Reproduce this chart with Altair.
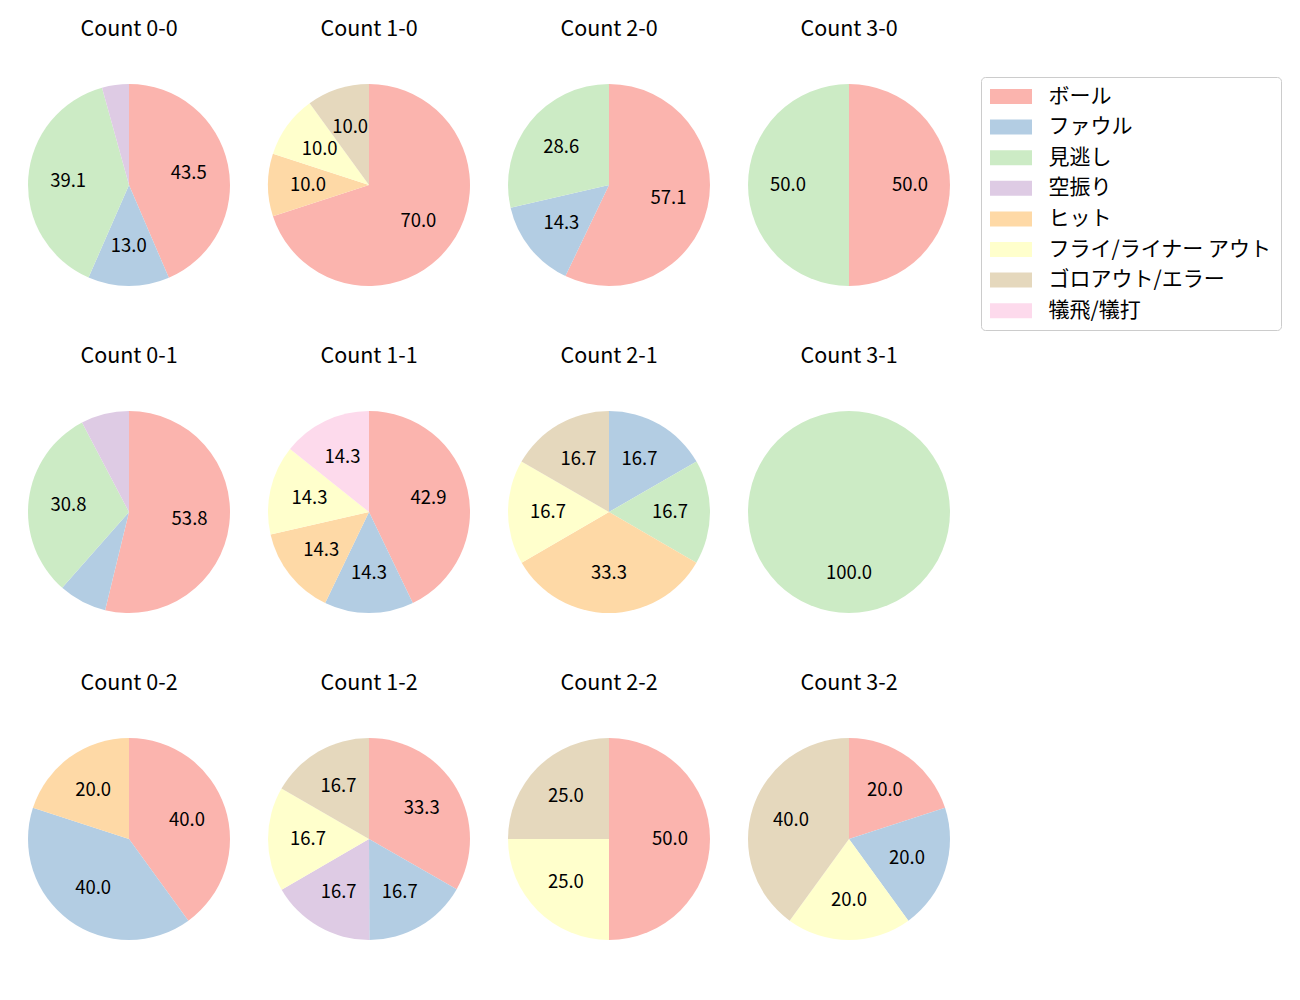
import altair as alt
import pandas as pd

FONT = "Noto Sans CJK JP"

categories = ["ボール", "ファウル", "見逃し", "空振り", "ヒット",
              "フライ/ライナー アウト", "ゴロアウト/エラー", "犠飛/犠打"]
colors = ["#fbb4ae", "#b3cde3", "#ccebc5", "#decbe4", "#fed9a6",
          "#ffffcc", "#e5d8bd", "#fddaec"]

counts = ["0-0", "1-0", "2-0", "3-0",
          "0-1", "1-1", "2-1", "3-1",
          "0-2", "1-2", "2-2", "3-2"]

# percentage of each category per count (legend order), 0 = absent
pct_0_0 = [43.5, 13.0, 39.1, 4.3, 0, 0, 0, 0]
pct_1_0 = [70.0, 0, 0, 0, 10.0, 10.0, 10.0, 0]
pct_2_0 = [57.1, 14.3, 28.6, 0, 0, 0, 0, 0]
pct_3_0 = [50.0, 0, 50.0, 0, 0, 0, 0, 0]
pct_0_1 = [53.8, 7.7, 30.8, 7.7, 0, 0, 0, 0]
pct_1_1 = [42.9, 14.3, 0, 0, 14.3, 14.3, 0, 14.3]
pct_2_1 = [0, 16.7, 16.7, 0, 33.3, 16.7, 16.7, 0]
pct_3_1 = [0, 0, 100.0, 0, 0, 0, 0, 0]
pct_0_2 = [40.0, 40.0, 0, 0, 20.0, 0, 0, 0]
pct_1_2 = [33.3, 16.7, 0, 16.7, 0, 16.7, 16.7, 0]
pct_2_2 = [50.0, 0, 0, 0, 0, 25.0, 25.0, 0]
pct_3_2 = [20.0, 20.0, 0, 0, 0, 20.0, 40.0, 0]

all_pcts = [pct_0_0, pct_1_0, pct_2_0, pct_3_0,
            pct_0_1, pct_1_1, pct_2_1, pct_3_1,
            pct_0_2, pct_1_2, pct_2_2, pct_3_2]

rows = []
for c, vals in zip(counts, all_pcts):
    for i, (cat, v) in enumerate(zip(categories, vals)):
        if v > 0:
            rows.append({"count": "Count " + c, "cat": cat, "idx": i, "pct": v})
df = pd.DataFrame(rows)

titles = ["Count " + c for c in counts]

base = alt.Chart(df).transform_calculate(
    label="datum.pct >= 9 ? format(datum.pct, '.1f') : ''"
).encode(
    theta=alt.Theta("pct:Q", stack=True),
    order=alt.Order("idx:Q", sort="ascending"),
)

arcs = base.mark_arc(outerRadius=101, strokeWidth=0).encode(
    color=alt.Color(
        "cat:N",
        scale=alt.Scale(domain=categories, range=colors),
        sort=categories,
        legend=alt.Legend(
            title=None,
            orient="none",
            legendX=968,
            legendY=27,
            symbolType="M-2,-0.714H2V0.714H-2Z",
            symbolSize=441,
            symbolStrokeWidth=0,
            symbolOpacity=1,
            symbolOffset=10.5,
            labelFont=FONT,
            labelFontSize=21,
            labelColor="black",
            labelLimit=400,
            labelOffset=27,
            rowPadding=8.6,
            padding=9,
            strokeColor="#cccccc",
            cornerRadius=4,
            fillColor="white",
        ),
    )
)

texts = base.mark_text(radius=61, fontSize=18.5, font=FONT, color="black").encode(
    text="label:N"
)

chart = alt.layer(arcs, texts).properties(width=232, height=270).facet(
    facet=alt.Facet(
        "count:N",
        sort=titles,
        header=alt.Header(
            title=None,
            labelFont=FONT,
            labelFontSize=21.5,
            labelColor="black",
            labelPadding=10,
        ),
    ),
    columns=4,
    spacing={"row": 25, "column": 8},
).resolve_scale(theta="independent").configure_view(stroke=None).properties(
    padding={"left": 5, "top": 10, "right": 5, "bottom": 5}
)

chart.save("out.html", embed_options={"renderer": "svg", "actions": False})
